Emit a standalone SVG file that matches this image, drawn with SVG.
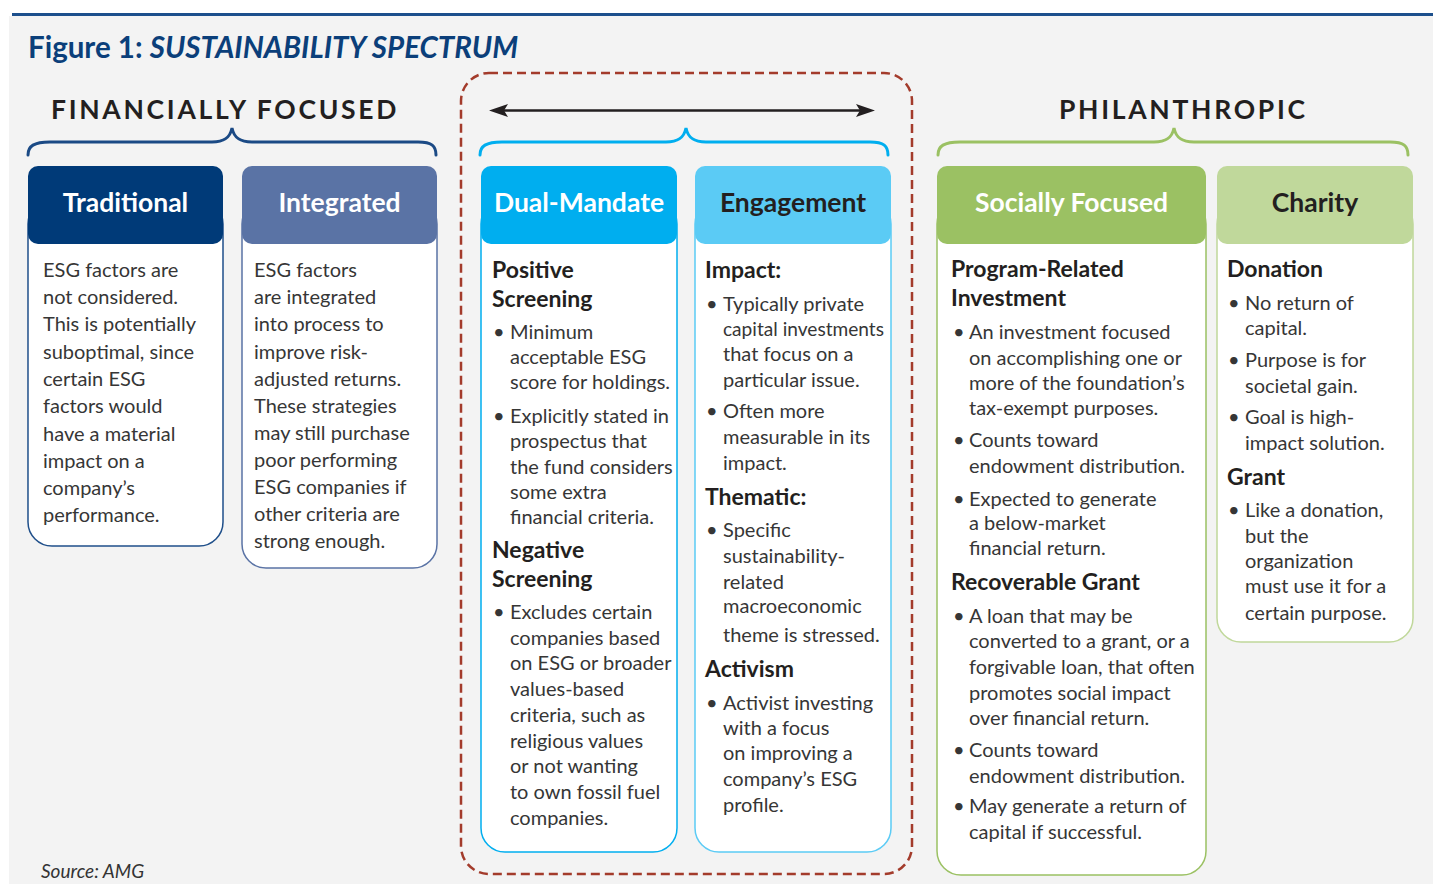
<svg xmlns="http://www.w3.org/2000/svg" width="1433" height="884" viewBox="0 0 1433 884">
<style>
  text { font-family: Lato, "Open Sans", "Liberation Sans", sans-serif; }
  .title { font-size: 29.5px; font-weight: bold; fill: #0b3f7a; }
  .cat { font-size: 26.5px; font-weight: bold; fill: #231f20; letter-spacing: 2.7px; }
  .hdr { font-size: 26.5px; font-weight: bold; text-anchor: middle; }
  .w { fill: #ffffff; }
  .d { fill: #231f20; }
  .body { font-size: 20px; fill: #363636; }
  .h { font-size: 23px; font-weight: bold; fill: #231f20; }
  .src { font-size: 19px; font-style: italic; fill: #333333; }
  .brace { fill: none; stroke-width: 3; stroke-linecap: round; }
</style>
<rect x="0" y="0" width="1433" height="884" fill="#ffffff"/>
<rect x="9" y="16" width="1424" height="868" fill="#f3f3f3"/>
<line x1="12" y1="14.5" x2="1433" y2="14.5" stroke="#1c4f8c" stroke-width="3"/>
<text class="title" x="28" y="58">Figure 1: <tspan font-style="italic">SUSTAINABILITY SPECTRUM</tspan></text>

<text class="cat" x="51" y="119">FINANCIALLY FOCUSED</text>
<text class="cat" x="1059" y="119">PHILANTHROPIC</text>

<g id="connectors">
  <rect x="461" y="73" width="451" height="801" rx="28" fill="none" stroke="#a33b2b" stroke-width="2.5" stroke-dasharray="9 5"/>
  <line x1="500" y1="110.5" x2="864" y2="110.5" stroke="#231f20" stroke-width="2.5"/>
  <path d="M489,110.5 L508,104 L504,110.5 L508,117 Z" fill="#231f20"/>
  <path d="M875,110.5 L856,104 L860,110.5 L856,117 Z" fill="#231f20"/>
  <path class="brace" stroke="#1b4a85" d="M28,155 C28,146 34,142 50,142 L212,142 C224,142 230,138 232,128 C234,138 240,142 252,142 L418,142 C432,142 436,146 436,155"/>
  <path class="brace" stroke="#00aeef" d="M480,155 C480,146 486,142 502,142 L666,142 C678,142 684,138 686,128 C688,138 694,142 706,142 L870,142 C884,142 888,146 888,155"/>
  <path class="brace" stroke="#9bc163" d="M938,155 C938,146 944,142 960,142 L1154,142 C1166,142 1172,138 1174,128 C1176,138 1182,142 1194,142 L1390,142 C1404,142 1408,146 1408,155"/>
</g>

<g id="traditional">
  <rect x="28" y="200" width="195" height="346" rx="24" fill="#ffffff" stroke="#1f4f8a" stroke-width="1.5"/>
  <rect x="28" y="166" width="195" height="78" rx="10" fill="#003a78"/>
  <text class="hdr w" x="125.5" y="212">Traditional</text>
  <text class="body" x="43">
    <tspan x="43" y="277">ESG factors are</tspan>
    <tspan x="43" y="304">not considered.</tspan>
    <tspan x="43" y="331">This is potentially</tspan>
    <tspan x="43" y="359">suboptimal, since</tspan>
    <tspan x="43" y="386">certain ESG</tspan>
    <tspan x="43" y="413">factors would</tspan>
    <tspan x="43" y="441">have a material</tspan>
    <tspan x="43" y="468">impact on a</tspan>
    <tspan x="43" y="495">company’s</tspan>
    <tspan x="43" y="522">performance.</tspan>
  </text>
</g>

<g id="integrated">
  <rect x="242" y="200" width="195" height="368" rx="24" fill="#ffffff" stroke="#5a73a5" stroke-width="1.5"/>
  <rect x="242" y="166" width="195" height="78" rx="10" fill="#5a73a5"/>
  <text class="hdr w" x="339.5" y="212">Integrated</text>
  <text class="body" x="254">
    <tspan x="254" y="277">ESG factors</tspan>
    <tspan x="254" y="304">are integrated</tspan>
    <tspan x="254" y="331">into process to</tspan>
    <tspan x="254" y="359">improve risk-</tspan>
    <tspan x="254" y="386">adjusted returns.</tspan>
    <tspan x="254" y="413">These strategies</tspan>
    <tspan x="254" y="440">may still purchase</tspan>
    <tspan x="254" y="467">poor performing</tspan>
    <tspan x="254" y="494">ESG companies if</tspan>
    <tspan x="254" y="521">other criteria are</tspan>
    <tspan x="254" y="548">strong enough.</tspan>
  </text>
</g>

<g id="dual-mandate">
  <rect x="481" y="200" width="196" height="652" rx="24" fill="#ffffff" stroke="#00aeef" stroke-width="1.5"/>
  <rect x="481" y="166" width="196" height="78" rx="10" fill="#00aeef"/>
  <text class="hdr w" x="579" y="212">Dual-Mandate</text>
  <text class="h" x="492"><tspan x="492" y="278">Positive</tspan><tspan x="492" y="307">Screening</tspan></text>
  <text class="body">
    <tspan x="493" y="339">•</tspan><tspan x="510" y="339">Minimum</tspan>
    <tspan x="510" y="364">acceptable ESG</tspan>
    <tspan x="510" y="389">score for holdings.</tspan>
    <tspan x="493" y="423">•</tspan><tspan x="510" y="423">Explicitly stated in</tspan>
    <tspan x="510" y="448">prospectus that</tspan>
    <tspan x="510" y="474">the fund considers</tspan>
    <tspan x="510" y="499">some extra</tspan>
    <tspan x="510" y="524">financial criteria.</tspan>
  </text>
  <text class="h" x="492"><tspan x="492" y="558">Negative</tspan><tspan x="492" y="587">Screening</tspan></text>
  <text class="body">
    <tspan x="493" y="619">•</tspan><tspan x="510" y="619">Excludes certain</tspan>
    <tspan x="510" y="645">companies based</tspan>
    <tspan x="510" y="670">on ESG or broader</tspan>
    <tspan x="510" y="696">values-based</tspan>
    <tspan x="510" y="722">criteria, such as</tspan>
    <tspan x="510" y="748">religious values</tspan>
    <tspan x="510" y="773">or not wanting</tspan>
    <tspan x="510" y="799">to own fossil fuel</tspan>
    <tspan x="510" y="825">companies.</tspan>
  </text>
</g>

<g id="engagement">
  <rect x="695" y="200" width="196" height="652" rx="24" fill="#ffffff" stroke="#5bcbf5" stroke-width="1.5"/>
  <rect x="695" y="166" width="196" height="78" rx="10" fill="#5bcbf5"/>
  <text class="hdr d" x="793" y="212">Engagement</text>
  <text class="h" x="705" y="278">Impact:</text>
  <text class="body">
    <tspan x="706" y="311">•</tspan><tspan x="723" y="311">Typically private</tspan>
    <tspan x="723" y="336" textLength="161" lengthAdjust="spacingAndGlyphs">capital investments</tspan>
    <tspan x="723" y="361">that focus on a</tspan>
    <tspan x="723" y="387">particular issue.</tspan>
    <tspan x="706" y="418">•</tspan><tspan x="723" y="418">Often more</tspan>
    <tspan x="723" y="444">measurable in its</tspan>
    <tspan x="723" y="470">impact.</tspan>
  </text>
  <text class="h" x="705" y="505">Thematic:</text>
  <text class="body">
    <tspan x="706" y="537">•</tspan><tspan x="723" y="537">Specific</tspan>
    <tspan x="723" y="563">sustainability-</tspan>
    <tspan x="723" y="589">related</tspan>
    <tspan x="723" y="613">macroeconomic</tspan>
    <tspan x="723" y="642">theme is stressed.</tspan>
  </text>
  <text class="h" x="705" y="677">Activism</text>
  <text class="body">
    <tspan x="706" y="710">•</tspan><tspan x="723" y="710">Activist investing</tspan>
    <tspan x="723" y="735">with a focus</tspan>
    <tspan x="723" y="760">on improving a</tspan>
    <tspan x="723" y="786">company’s ESG</tspan>
    <tspan x="723" y="812">profile.</tspan>
  </text>
</g>

<g id="socially-focused">
  <rect x="937" y="200" width="269" height="675" rx="24" fill="#ffffff" stroke="#9bc163" stroke-width="1.5"/>
  <rect x="937" y="166" width="269" height="78" rx="10" fill="#9bc163"/>
  <text class="hdr w" x="1071.5" y="212">Socially Focused</text>
  <text class="h"><tspan x="951" y="277">Program-Related</tspan><tspan x="951" y="306">Investment</tspan></text>
  <text class="body">
    <tspan x="953" y="339">•</tspan><tspan x="969" y="339">An investment focused</tspan>
    <tspan x="969" y="365">on accomplishing one or</tspan>
    <tspan x="969" y="390">more of the foundation’s</tspan>
    <tspan x="969" y="415">tax-exempt purposes.</tspan>
    <tspan x="953" y="447">•</tspan><tspan x="969" y="447">Counts toward</tspan>
    <tspan x="969" y="473">endowment distribution.</tspan>
    <tspan x="953" y="506">•</tspan><tspan x="969" y="506">Expected to generate</tspan>
    <tspan x="969" y="530">a below-market</tspan>
    <tspan x="969" y="555">financial return.</tspan>
  </text>
  <text class="h" x="951" y="590">Recoverable Grant</text>
  <text class="body">
    <tspan x="953" y="623">•</tspan><tspan x="969" y="623">A loan that may be</tspan>
    <tspan x="969" y="648">converted to a grant, or a</tspan>
    <tspan x="969" y="674">forgivable loan, that often</tspan>
    <tspan x="969" y="700">promotes social impact</tspan>
    <tspan x="969" y="725">over financial return.</tspan>
    <tspan x="953" y="757">•</tspan><tspan x="969" y="757">Counts toward</tspan>
    <tspan x="969" y="783">endowment distribution.</tspan>
    <tspan x="953" y="813">•</tspan><tspan x="969" y="813">May generate a return of</tspan>
    <tspan x="969" y="839">capital if successful.</tspan>
  </text>
</g>

<g id="charity">
  <rect x="1217" y="200" width="196" height="442" rx="24" fill="#ffffff" stroke="#c0d89b" stroke-width="1.5"/>
  <rect x="1217" y="166" width="196" height="78" rx="10" fill="#c0d89b"/>
  <text class="hdr d" x="1315" y="212">Charity</text>
  <text class="h" x="1227" y="277">Donation</text>
  <text class="body">
    <tspan x="1228" y="310">•</tspan><tspan x="1245" y="310">No return of</tspan>
    <tspan x="1245" y="335">capital.</tspan>
    <tspan x="1228" y="367">•</tspan><tspan x="1245" y="367">Purpose is for</tspan>
    <tspan x="1245" y="393">societal gain.</tspan>
    <tspan x="1228" y="424">•</tspan><tspan x="1245" y="424">Goal is high-</tspan>
    <tspan x="1245" y="450">impact solution.</tspan>
  </text>
  <text class="h" x="1227" y="485">Grant</text>
  <text class="body">
    <tspan x="1228" y="517">•</tspan><tspan x="1245" y="517">Like a donation,</tspan>
    <tspan x="1245" y="543">but the</tspan>
    <tspan x="1245" y="568">organization</tspan>
    <tspan x="1245" y="593">must use it for a</tspan>
    <tspan x="1245" y="620">certain purpose.</tspan>
  </text>
</g>

<text class="src" x="41" y="878">Source: AMG</text>
</svg>
